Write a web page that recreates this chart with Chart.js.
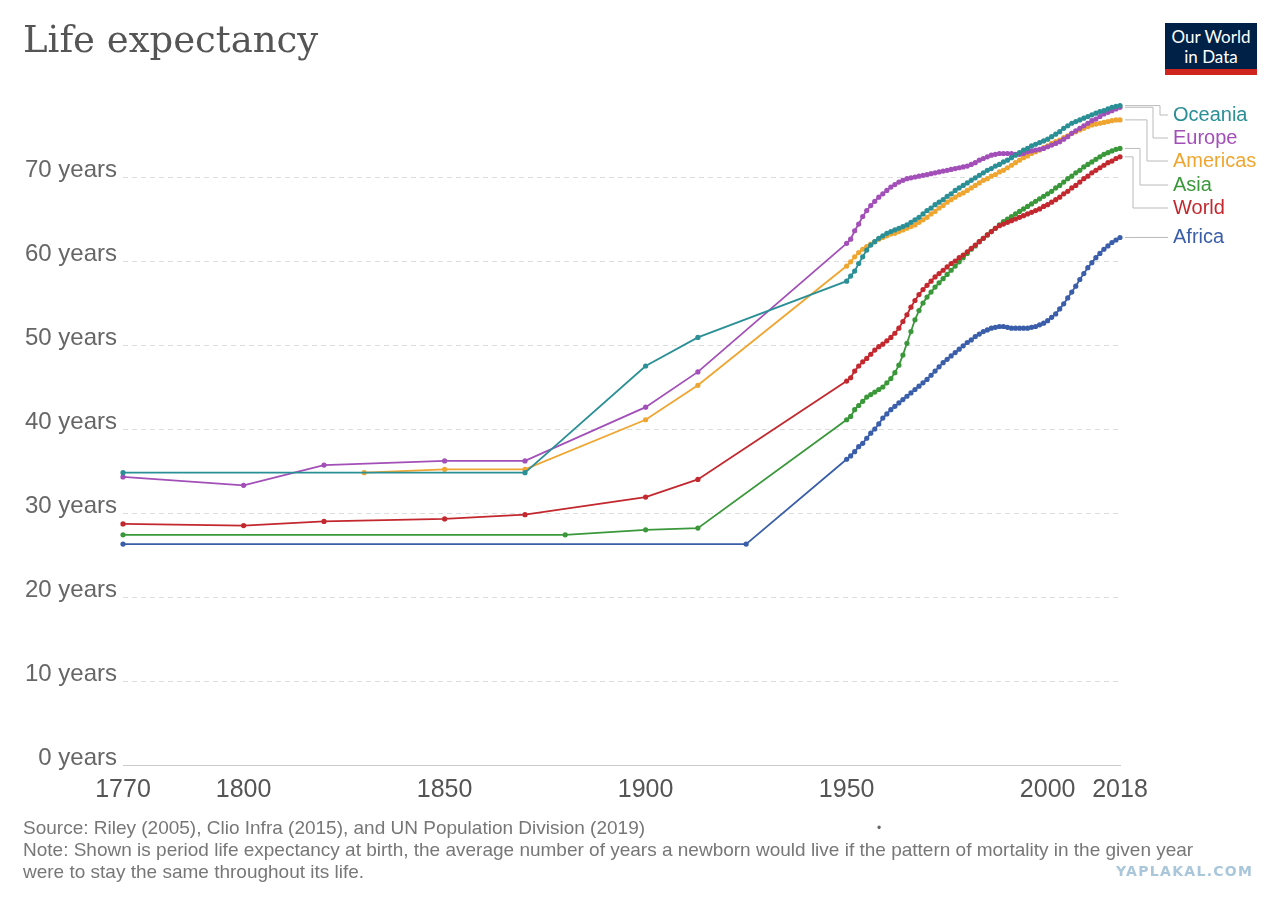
<!DOCTYPE html>
<html>
<head>
<meta charset="utf-8">
<title>Life expectancy</title>
<script src="https://cdn.jsdelivr.net/npm/chart.js@4.4.0/dist/chart.umd.min.js"></script>
<style>
    html, body { margin: 0; padding: 0; background: #fff; }
    #wrap { position: relative; width: 1280px; height: 904px; overflow: hidden; font-family: "Liberation Sans", Arial, sans-serif; }
    #chartBox { position: absolute; left: 0; top: 0; width: 1280px; height: 904px; }
    h1 { position: absolute; left: 23px; top: 18px; margin: 0; font-family: "DejaVu Serif", serif; font-weight: normal; font-size: 37px; color: #555; }
    #logo { position: absolute; left: 1165px; top: 23px; width: 92px; height: 52px; background: #002147; color: #fff; font-family: Lato, "Noto Sans", sans-serif; font-size: 17px; line-height: 20px; text-align: center; box-sizing: border-box; padding-top: 4px; }
    #logo .bar { position: absolute; left: 0; bottom: 0; width: 92px; height: 6px; background: #ce261e; }
    #footer { position: absolute; left: 23px; top: 817px; font-size: 19px; line-height: 22px; color: #777; }
    #dot { position: absolute; left: 877px; top: 817px; font-size: 12px; line-height: 22px; color: #666; }
    #mark { position: absolute; left: 1116px; top: 863px; font-family: "DejaVu Sans", sans-serif; font-size: 14px; font-weight: bold; color: #a9c6da; letter-spacing: 1.3px; }
</style>
</head>
<body>
<div id="wrap">
    <div id="chartBox"><canvas id="lifeChart"></canvas></div>
    <h1>Life expectancy</h1>
    <div id="logo">Our World<br>in Data<div class="bar"></div></div>
    <div id="footer">Source: Riley (2005), Clio Infra (2015), and UN Population Division (2019)<br>Note: Shown is period life expectancy at birth, the average number of years a newborn would live if the pattern of mortality in the given year<br>were to stay the same throughout its life.</div>
    <div id="dot">•</div>
    <div id="mark">YAPLAKAL.COM</div>
</div>
<script>
// yearly values from 1950 on
const annualYears = [
    1950, 1951, 1952, 1953, 1954, 1955, 1956, 1957, 1958, 1959,
    1960, 1961, 1962, 1963, 1964, 1965, 1966, 1967, 1968, 1969,
    1970, 1971, 1972, 1973, 1974, 1975, 1976, 1977, 1978, 1979,
    1980, 1981, 1982, 1983, 1984, 1985, 1986, 1987, 1988, 1989,
    1990, 1991, 1992, 1993, 1994, 1995, 1996, 1997, 1998, 1999,
    2000, 2001, 2002, 2003, 2004, 2005, 2006, 2007, 2008, 2009,
    2010, 2011, 2012, 2013, 2014, 2015, 2016, 2017, 2018
];

// historical estimates before 1950
const oceaniaEarlyYears = [1770, 1870, 1900, 1913];
const oceaniaEarly = [34.8, 34.8, 47.5, 50.9];
const europeEarlyYears = [1770, 1800, 1820, 1850, 1870, 1900, 1913];
const europeEarly = [34.3, 33.3, 35.7, 36.2, 36.2, 42.6, 46.8];
const americasEarlyYears = [1830, 1850, 1870, 1900, 1913];
const americasEarly = [34.8, 35.2, 35.2, 41.1, 45.2];
const asiaEarlyYears = [1770, 1880, 1900, 1913];
const asiaEarly = [27.4, 27.4, 28.0, 28.2];
const worldEarlyYears = [1770, 1800, 1820, 1850, 1870, 1900, 1913];
const worldEarly = [28.7, 28.5, 29.0, 29.3, 29.8, 31.9, 34.0];
const africaEarlyYears = [1770, 1925];
const africaEarly = [26.3, 26.3];

const oceaniaAnnual = [
    57.6, 58.2, 58.8, 59.7, 60.5, 61.3, 61.9, 62.3, 62.7, 63.0,
    63.3, 63.5, 63.7, 63.9, 64.1, 64.3, 64.6, 64.9, 65.2, 65.6,
    66.0, 66.3, 66.7, 67.0, 67.3, 67.7, 68.0, 68.4, 68.7, 69.0,
    69.3, 69.6, 69.9, 70.2, 70.5, 70.8, 71.0, 71.3, 71.5, 71.8,
    72.0, 72.3, 72.6, 72.9, 73.2, 73.4, 73.7, 73.9, 74.1, 74.3,
    74.5, 74.8, 75.1, 75.4, 75.8, 76.1, 76.4, 76.6, 76.8, 77.0,
    77.2, 77.4, 77.6, 77.8, 77.9, 78.1, 78.3, 78.4, 78.5
];
const europeAnnual = [
    62.1, 62.6, 63.6, 64.4, 65.3, 66.0, 66.6, 67.1, 67.6, 68.0,
    68.4, 68.8, 69.1, 69.4, 69.6, 69.8, 69.9, 70.0, 70.1, 70.2,
    70.3, 70.4, 70.5, 70.6, 70.7, 70.8, 70.9, 71.0, 71.1, 71.2,
    71.3, 71.5, 71.7, 72.0, 72.2, 72.4, 72.6, 72.7, 72.8, 72.8,
    72.8, 72.8, 72.7, 72.7, 72.8, 73.0, 73.1, 73.2, 73.3, 73.4,
    73.6, 73.8, 74.0, 74.2, 74.5, 74.8, 75.2, 75.5, 75.8, 76.1,
    76.4, 76.7, 76.9, 77.2, 77.5, 77.7, 77.9, 78.1, 78.3
];
const americasAnnual = [
    59.4, 59.9, 60.5, 61.0, 61.4, 61.7, 62.0, 62.3, 62.6, 62.8,
    63.0, 63.2, 63.3, 63.5, 63.7, 63.9, 64.1, 64.3, 64.6, 64.9,
    65.2, 65.6, 65.9, 66.3, 66.6, 67.0, 67.3, 67.6, 67.9, 68.1,
    68.4, 68.7, 69.0, 69.3, 69.6, 69.8, 70.1, 70.3, 70.6, 70.8,
    71.1, 71.4, 71.7, 72.0, 72.3, 72.5, 72.8, 73.0, 73.2, 73.5,
    73.7, 74.0, 74.2, 74.4, 74.7, 74.9, 75.2, 75.4, 75.6, 75.8,
    76.0, 76.2, 76.3, 76.4, 76.5, 76.6, 76.7, 76.8, 76.8
];
const asiaAnnual = [
    41.1, 41.5, 42.3, 42.8, 43.3, 43.8, 44.1, 44.4, 44.7, 45.0,
    45.5, 46.0, 46.7, 47.6, 48.8, 50.2, 51.6, 53.0, 54.1, 55.0,
    55.7, 56.3, 56.9, 57.4, 57.9, 58.4, 58.9, 59.4, 59.9, 60.4,
    60.9, 61.4, 61.8, 62.3, 62.7, 63.1, 63.5, 63.9, 64.3, 64.7,
    65.0, 65.3, 65.6, 65.9, 66.2, 66.5, 66.8, 67.1, 67.4, 67.7,
    68.0, 68.3, 68.7, 69.0, 69.4, 69.8, 70.1, 70.5, 70.8, 71.2,
    71.5, 71.8, 72.1, 72.4, 72.7, 72.9, 73.1, 73.3, 73.4
];
const worldAnnual = [
    45.7, 46.1, 46.9, 47.5, 48.0, 48.4, 48.9, 49.4, 49.8, 50.1,
    50.5, 50.9, 51.4, 52.0, 52.8, 53.6, 54.5, 55.3, 56.0, 56.6,
    57.1, 57.6, 58.1, 58.5, 58.9, 59.3, 59.7, 60.0, 60.4, 60.7,
    61.1, 61.5, 61.9, 62.3, 62.7, 63.1, 63.5, 63.9, 64.2, 64.4,
    64.6, 64.8, 65.0, 65.2, 65.4, 65.6, 65.8, 66.0, 66.2, 66.5,
    66.7, 67.0, 67.3, 67.6, 68.0, 68.3, 68.7, 69.0, 69.4, 69.8,
    70.1, 70.5, 70.8, 71.1, 71.4, 71.7, 71.9, 72.2, 72.4
];
const africaAnnual = [
    36.4, 36.8, 37.3, 37.9, 38.3, 38.9, 39.5, 40.0, 40.6, 41.3,
    41.8, 42.3, 42.7, 43.1, 43.5, 43.9, 44.3, 44.7, 45.1, 45.5,
    45.9, 46.4, 46.9, 47.4, 47.9, 48.3, 48.7, 49.1, 49.5, 49.9,
    50.3, 50.6, 51.0, 51.3, 51.6, 51.8, 52.0, 52.1, 52.2, 52.2,
    52.1, 52.0, 52.0, 52.0, 52.0, 52.0, 52.1, 52.2, 52.4, 52.6,
    52.9, 53.3, 53.7, 54.3, 54.9, 55.6, 56.3, 57.0, 57.8, 58.5,
    59.2, 59.8, 60.4, 60.9, 61.4, 61.8, 62.2, 62.5, 62.8
];

const xTickYears = [1770, 1800, 1850, 1900, 1950, 2000, 2018];

// series: name, colour, early part, yearly part
const series = [
    { name: "World", color: "#c3282e", years: worldEarlyYears, early: worldEarly, annual: worldAnnual },
    { name: "Oceania", color: "#2b8f96", years: oceaniaEarlyYears, early: oceaniaEarly, annual: oceaniaAnnual },
    { name: "Europe", color: "#a24fb8", years: europeEarlyYears, early: europeEarly, annual: europeAnnual },
    { name: "Asia", color: "#3a983a", years: asiaEarlyYears, early: asiaEarly, annual: asiaAnnual },
    { name: "Americas", color: "#efa631", years: americasEarlyYears, early: americasEarly, annual: americasAnnual },
    { name: "Africa", color: "#3a5ea9", years: africaEarlyYears, early: africaEarly, annual: africaAnnual }
];

// right-hand labels: label centre y and elbow x of the leader line (null = straight)
const labelLayout = {
    Oceania: { y: 115, elbow: 1160 },
    Europe: { y: 138, elbow: 1153 },
    Americas: { y: 161, elbow: 1147 },
    Asia: { y: 185, elbow: 1140 },
    World: { y: 208, elbow: 1133 },
    Africa: { y: null, elbow: null }
};

function buildPoints(s) {
    const pts = s.years.map((yr, i) => ({ x: yr, y: s.early[i] }));
    annualYears.forEach((yr, i) => pts.push({ x: yr, y: s.annual[i] }));
    return pts;
}

const endLabels = {
    id: "endLabels",
    afterDatasetsDraw(chart) {
        const ctx = chart.ctx;
        const xs = chart.scales.x;
        const ys = chart.scales.y;
        const lastYear = annualYears[annualYears.length - 1];
        const x0 = xs.getPixelForValue(lastYear) + 5;
        const textX = 1173;
        ctx.save();
        ctx.lineWidth = 1;
        ctx.strokeStyle = "#bbbbbb";
        ctx.font = "20px 'Liberation Sans', Arial, sans-serif";
        ctx.textBaseline = "middle";
        series.forEach(s => {
            const lay = labelLayout[s.name];
            const yEnd = ys.getPixelForValue(s.annual[s.annual.length - 1]);
            const yLab = lay.y === null ? yEnd : lay.y;
            ctx.beginPath();
            ctx.moveTo(x0, yEnd);
            if (lay.elbow) {
                ctx.lineTo(lay.elbow, yEnd);
                ctx.lineTo(lay.elbow, yLab);
            }
            ctx.lineTo(textX - 5, yLab);
            ctx.stroke();
            ctx.fillStyle = s.color;
            ctx.fillText(s.name, textX, yLab);
        });
        ctx.restore();
    }
};

const ctx = document.getElementById("lifeChart").getContext("2d");
const chart = new Chart(ctx, {
    type: "line",
    data: {
        datasets: series.map(s => ({
            label: s.name,
            data: buildPoints(s),
            borderColor: s.color,
            backgroundColor: s.color,
            borderWidth: 1.8,
            pointRadius: 2.6,
            pointBorderWidth: 0,
            pointBackgroundColor: s.color,
            tension: 0,
            clip: false
        }))
    },
    options: {
        responsive: true,
        maintainAspectRatio: false,
        animation: false,
        events: [],
        layout: { padding: { left: 0, right: 160, top: 93, bottom: 99 } },
        plugins: {
            legend: { display: false },
            tooltip: { enabled: false }
        },
        scales: {
            x: {
                type: "linear",
                min: 1770,
                max: 2018,
                afterBuildTicks: scale => { scale.ticks = xTickYears.map(v => ({ value: v })); },
                afterFit: scale => { scale.height = 40; },
                ticks: {
                    callback: v => String(v),
                    autoSkip: false,
                    maxRotation: 0,
                    padding: 10,
                    color: "#555",
                    font: { family: "'Liberation Sans', Arial, sans-serif", size: 25 }
                },
                grid: { display: false, drawTicks: false },
                border: { display: true, color: "#cccccc", width: 1 }
            },
            y: {
                min: 0,
                max: 80,
                afterFit: scale => { scale.width = 123; },
                ticks: {
                    stepSize: 10,
                    padding: 6,
                    labelOffset: -7,
                    color: "#666",
                    font: { family: "'Liberation Sans', Arial, sans-serif", size: 24 },
                    callback: v => (v === 80 ? null : v + " years")
                },
                grid: {
                    drawTicks: false,
                    color: c => (c.tick && c.tick.value === 0 ? "rgba(0,0,0,0)" : "#dddddd"),
                    lineWidth: 1
                },
                border: { display: false, dash: [5, 4] }
            }
        }
    },
    plugins: [endLabels]
});
</script>
</body>
</html>
